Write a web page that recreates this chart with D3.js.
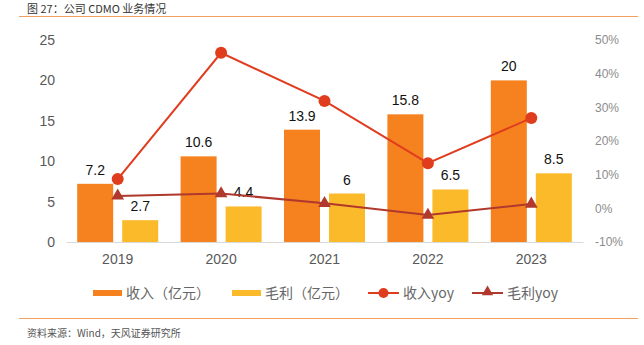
<!DOCTYPE html>
<html>
<head>
<meta charset="utf-8">
<script src="https://cdn.jsdelivr.net/npm/d3@7"></script>
<style>
  body { margin: 0; background: #fff; }
  svg { display: block; }
</style>
</head>
<body>
<div id="chart"></div>
<script>
// data
const years = ["2019", "2020", "2021", "2022", "2023"];
const revenue = [7.2, 10.6, 13.9, 15.8, 20];
const grossProfit = [2.7, 4.4, 6, 6.5, 8.5];
const revenueYoy = [8.7, 46.2, 31.9, 13.4, 26.8];
const profitYoy = [3.7, 4.4, 1.5, -2.0, 1.3];
const leftTicks = [0, 5, 10, 15, 20, 25];
const rightTicks = [-10, 0, 10, 20, 30, 40, 50];

const width = 644, height = 345;
const fontCN = "'Noto Sans CJK SC', 'Noto Sans', sans-serif";
const fontNum = "'Liberation Sans', Arial, sans-serif";

const svg = d3.select("#chart").append("svg")
  .attr("width", width).attr("height", height);

// title + rules
svg.append("text")
  .attr("x", 27).attr("y", 13)
  .style("font", "400 11px " + fontCN)
  .attr("fill", "#333")
  .text("图 27：公司 CDMO 业务情况");
svg.append("line").attr("x1", 19).attr("x2", 638).attr("y1", 16.5).attr("y2", 16.5)
  .attr("stroke", "#F0A060").attr("stroke-width", 1.2);
svg.append("line").attr("x1", 19).attr("x2", 638).attr("y1", 318.5).attr("y2", 318.5)
  .attr("stroke", "#F0A060").attr("stroke-width", 1.2);
svg.append("text")
  .attr("x", 27).attr("y", 337)
  .style("font", "10px " + fontCN)
  .attr("fill", "#555")
  .text("资料来源：Wind，天风证券研究所");

// scales
let x = d3.scaleBand().domain(years).range([66, 583]);
let yL = d3.scaleLinear().domain([0, 25]).range([242, 40]);
let yR = d3.scaleLinear().domain([-10, 50]).range([242, 40]);
let bw = 36, gap = 9;

// left axis
let leftAxis = d3.axisLeft(yL).tickValues(leftTicks).tickSize(0).tickPadding(0);
svg.append("g").attr("transform", "translate(55,0)").call(leftAxis)
  .call(g => g.select(".domain").remove())
  .selectAll("text")
  .style("font", "14px " + fontNum).attr("fill", "#595959");

// right axis
let rightAxis = d3.axisRight(yR).tickValues(rightTicks).tickSize(0).tickPadding(0)
  .tickFormat(d => d + "%");
svg.append("g").attr("transform", "translate(595,0)").call(rightAxis)
  .call(g => g.select(".domain").remove())
  .selectAll("text")
  .style("font", "12px " + fontNum).attr("fill", "#8c8c8c");

// x axis
let xAxis = d3.axisBottom(x).tickSize(0).tickPadding(12);
svg.append("g").attr("transform", "translate(0,242)").call(xAxis)
  .call(g => g.select(".domain").attr("stroke", "#d9d9d9"))
  .selectAll("text")
  .style("font", "14px " + fontNum).attr("fill", "#595959");

const cx = d => x(d) + x.bandwidth() / 2;

// bars
svg.selectAll(".rev").data(years).enter().append("rect")
  .attr("x", d => cx(d) - gap / 2 - bw)
  .attr("y", (d, i) => yL(revenue[i]))
  .attr("width", bw)
  .attr("height", (d, i) => yL(0) - yL(revenue[i]))
  .attr("fill", "#F5821F");
svg.selectAll(".gp").data(years).enter().append("rect")
  .attr("x", d => cx(d) + gap / 2)
  .attr("y", (d, i) => yL(grossProfit[i]))
  .attr("width", bw)
  .attr("height", (d, i) => yL(0) - yL(grossProfit[i]))
  .attr("fill", "#FBBA2A");

// bar labels
svg.selectAll(".revLbl").data(years).enter().append("text")
  .attr("x", d => cx(d) - gap / 2 - bw / 2)
  .attr("y", (d, i) => yL(revenue[i]) - 9)
  .attr("text-anchor", "middle")
  .style("font", "14px " + fontNum).attr("fill", "#111")
  .text((d, i) => revenue[i]);
svg.selectAll(".gpLbl").data(years).enter().append("text")
  .attr("x", d => cx(d) + gap / 2 + bw / 2)
  .attr("y", (d, i) => yL(grossProfit[i]) - 9)
  .attr("text-anchor", "middle")
  .style("font", "14px " + fontNum).attr("fill", "#111")
  .text((d, i) => grossProfit[i]);

// lines
let yoyLine = d3.line().x((d, i) => cx(years[i])).y(d => yR(d));
svg.append("path").datum(revenueYoy).attr("d", yoyLine)
  .attr("fill", "none").attr("stroke", "#E03C1E").attr("stroke-width", 2);
svg.selectAll(".revDot").data(revenueYoy).enter().append("circle")
  .attr("cx", (d, i) => cx(years[i])).attr("cy", d => yR(d))
  .attr("r", 6).attr("fill", "#E03C1E");

svg.append("path").datum(profitYoy).attr("d", yoyLine)
  .attr("fill", "none").attr("stroke", "#B0382C").attr("stroke-width", 2);
let tri = d3.symbol().type(d3.symbolTriangle).size(70);
svg.selectAll(".gpTri").data(profitYoy).enter().append("path")
  .attr("d", tri)
  .attr("transform", (d, i) => "translate(" + cx(years[i]) + "," + yR(d) + ")")
  .attr("fill", "#B0382C");

// legend
let lg = svg.append("g").style("font", "14px " + fontCN);
lg.append("rect").attr("x", 93).attr("y", 290).attr("width", 29).attr("height", 6).attr("fill", "#F5821F");
lg.append("text").attr("x", 126).attr("y", 298).attr("fill", "#666").text("收入（亿元）");
lg.append("rect").attr("x", 232).attr("y", 290).attr("width", 29).attr("height", 6).attr("fill", "#FBBA2A");
lg.append("text").attr("x", 265).attr("y", 298).attr("fill", "#666").text("毛利（亿元）");
lg.append("line").attr("x1", 368).attr("x2", 399).attr("y1", 293).attr("y2", 293)
  .attr("stroke", "#E03C1E").attr("stroke-width", 2);
lg.append("circle").attr("cx", 383.5).attr("cy", 293).attr("r", 5).attr("fill", "#E03C1E");
lg.append("text").attr("x", 403).attr("y", 298).attr("fill", "#666").text("收入yoy");
lg.append("line").attr("x1", 472).attr("x2", 503).attr("y1", 293).attr("y2", 293)
  .attr("stroke", "#B0382C").attr("stroke-width", 2);
lg.append("path").attr("d", d3.symbol().type(d3.symbolTriangle).size(55))
  .attr("transform", "translate(487.5,292)").attr("fill", "#B0382C");
lg.append("text").attr("x", 507).attr("y", 298).attr("fill", "#666").text("毛利yoy");
</script>
</body>
</html>
